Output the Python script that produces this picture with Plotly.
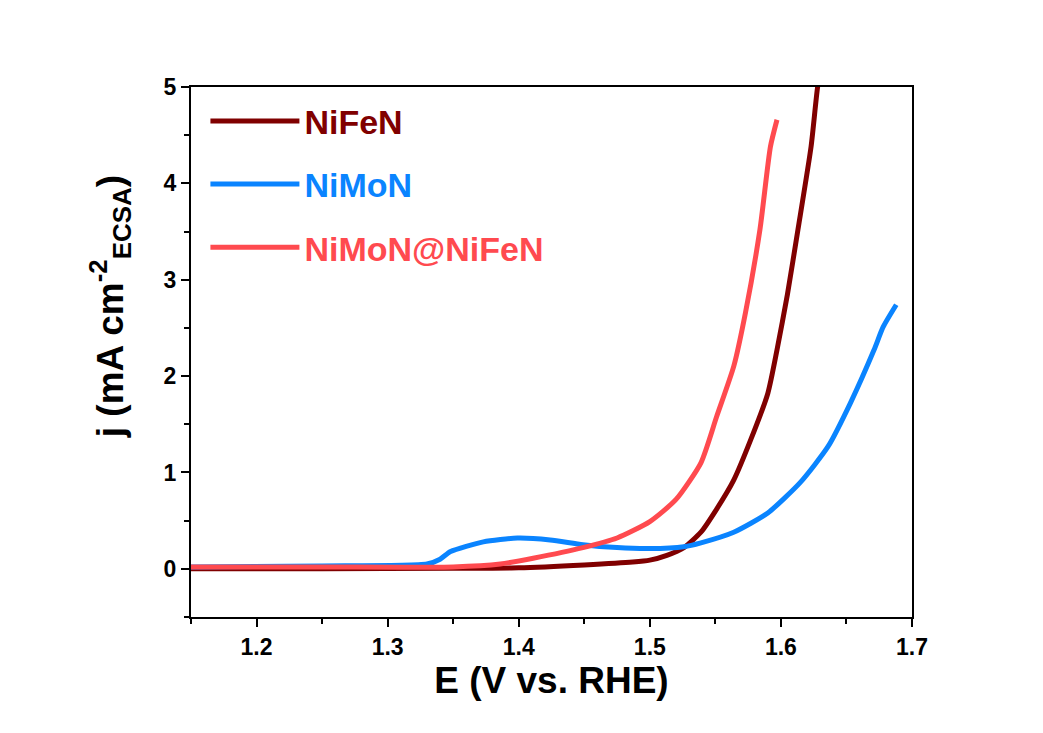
import plotly.graph_objects as go

# NiFeN
nifen_x = [1.15, 1.25, 1.35, 1.40, 1.45, 1.487, 1.50, 1.513, 1.526, 1.539, 1.551, 1.564, 1.577, 1.590, 1.597, 1.605, 1.613, 1.623, 1.628, 1.632]
nifen_y = [0.00, 0.00, 0.005, 0.01, 0.04, 0.07, 0.09, 0.14, 0.22, 0.38, 0.62, 0.92, 1.34, 1.82, 2.27, 2.85, 3.52, 4.38, 5.0, 5.3]

# NiMoN
nimon_x = [1.15, 1.25, 1.33, 1.34, 1.348, 1.373, 1.399, 1.424, 1.449, 1.475, 1.50, 1.526, 1.539, 1.564, 1.590, 1.615, 1.636, 1.653, 1.671, 1.678, 1.688]
nimon_y = [0.02, 0.03, 0.05, 0.10, 0.18, 0.28, 0.32, 0.30, 0.25, 0.22, 0.21, 0.23, 0.27, 0.38, 0.58, 0.90, 1.27, 1.72, 2.27, 2.51, 2.74]

# NiMoN@NiFeN
hybrid_x = [1.15, 1.25, 1.35, 1.386, 1.411, 1.449, 1.475, 1.50, 1.52, 1.539, 1.551, 1.564, 1.573, 1.584, 1.592, 1.597]
hybrid_y = [0.02, 0.02, 0.02, 0.05, 0.11, 0.22, 0.32, 0.49, 0.72, 1.10, 1.58, 2.10, 2.66, 3.52, 4.38, 4.66]

x_ticks = [1.2, 1.3, 1.4, 1.5, 1.6, 1.7]
y_ticks = [0, 1, 2, 3, 4, 5]

series = [
    ("NiFeN", nifen_x, nifen_y, "#800000"),
    ("NiMoN", nimon_x, nimon_y, "#0A84FF"),
    ("NiMoN@NiFeN", hybrid_x, hybrid_y, "#FF4A4F"),
]

FONT = "Arial, Liberation Sans, sans-serif"

fig = go.Figure()
for name, xs, ys, col in series:
    fig.add_trace(go.Scatter(
        x=xs, y=ys, mode="lines",
        line=dict(color=col, width=5, shape="spline", smoothing=0.6),
        name=f'<span style="color:{col}"><b>{name}</b></span>',
        legendgroup=name,
    ))

axis_common = dict(
    showline=True, linecolor="black", linewidth=2, mirror=True,
    ticks="outside", ticklen=8, tickwidth=2, tickcolor="black",
    showgrid=False, zeroline=False,
    tickfont=dict(family=FONT, size=23, color="black"),
)

fig.update_xaxes(
    range=[1.15, 1.7], tickvals=x_ticks, ticktext=[f"<b>{v:.1f}</b>" for v in x_ticks],
    minor=dict(ticks="outside", ticklen=5, tickwidth=2, dtick=0.05, tick0=1.15, tickcolor="black"),
    title=dict(text="<b>E (V vs. RHE)</b>", font=dict(family=FONT, size=37, color="black"), standoff=9),
    **axis_common,
)
fig.update_yaxes(
    range=[-0.5, 5], tickvals=y_ticks, ticktext=[f"<b>{v}</b>" for v in y_ticks],
    minor=dict(ticks="outside", ticklen=5, tickwidth=2, dtick=0.5, tick0=0, tickcolor="black"),
    **axis_common,
)

fig.add_annotation(
    text="<b>j (mA cm<sup>-2</sup><sub>ECSA</sub>)</b>",
    xref="paper", yref="paper", x=-0.112, y=0.585,
    xanchor="center", yanchor="middle", textangle=-90, showarrow=False,
    font=dict(family=FONT, size=37, color="black"),
)

fig.update_layout(
    width=1043, height=733,
    margin=dict(l=183, r=139, t=79, b=124, autoexpand=False),
    paper_bgcolor="white", plot_bgcolor="white",
    showlegend=True,
    legend=dict(
        x=0.02, y=0.99, xanchor="left", yanchor="top",
        bgcolor="rgba(0,0,0,0)", borderwidth=0,
        font=dict(family=FONT, size=34),
        tracegroupgap=16, itemwidth=89,
    ),
)

fig.write_html("out.html")
